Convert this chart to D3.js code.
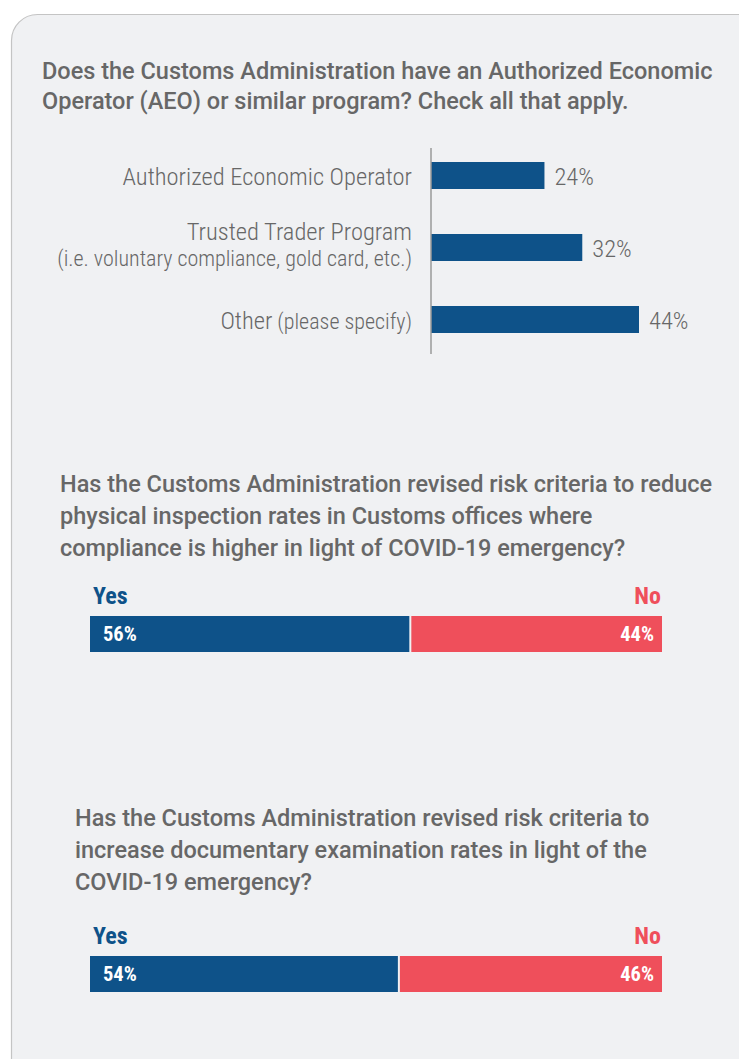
<!DOCTYPE html>
<html>
<head>
<meta charset="utf-8">
<script src="https://cdn.jsdelivr.net/npm/d3@7"></script>
<style>
  html, body { margin: 0; padding: 0; background: #ffffff; }
  svg { display: block; }
  .cond { font-family: "Roboto Condensed", "Liberation Sans Narrow", "Roboto", sans-serif; font-stretch: condensed; }
  .reg { font-family: "Roboto", "Liberation Sans", sans-serif; }
</style>
</head>
<body>
<svg id="chart" width="739" height="1059"></svg>
<script>
// ---------- data ----------
const title1Lines = ["Does the Customs Administration have an Authorized Economic",
                     "Operator (AEO) or similar program? Check all that apply."];
const aeoCategories = ["Authorized Economic Operator", "Trusted Trader Program", "Other"];
const aeoSublabels = ["", "(i.e. voluntary compliance, gold card, etc.)", "(please specify)"];
const aeoValues = [24, 32, 44];

const title2Lines = ["Has the Customs Administration revised risk criteria to reduce",
                     "physical inspection rates in Customs offices where",
                     "compliance is higher in light of COVID-19 emergency?"];
const title3Lines = ["Has the Customs Administration revised risk criteria to",
                     "increase documentary examination rates in light of the",
                     "COVID-19 emergency?"];
const answerLabels = ["Yes", "No"];
const q2Values = [56, 44];
const q3Values = [54, 46];

// ---------- style ----------
const gray = "#676767";
const blue = "#0e5289";
const red = "#ef4f5b";

const svg = d3.select("#chart");

// card
svg.append("rect")
  .attr("x", 11.5).attr("y", 14.5)
  .attr("width", 760).attr("height", 1070)
  .attr("rx", 26).attr("ry", 26)
  .attr("fill", "#f0f1f3")
  .attr("stroke", "#c4c4c4").attr("stroke-width", 1.2);

function drawTitle(lines, x, y0, lh, cls, size, weight) {
  const t = svg.append("text").attr("class", cls)
    .attr("fill", gray).attr("font-size", size).attr("font-weight", weight);
  lines.forEach((l, i) => {
    t.append("tspan").attr("x", x).attr("y", y0 + i * lh).text(l);
  });
}

// ---------- chart 1 ----------
drawTitle(title1Lines, 42, 79, 30, "reg", 23.5, 500);

const axisX = 431;
const x1 = d3.scaleLinear().domain([0, 44]).range([axisX, 639]);
const y1 = d3.scaleBand().domain(aeoCategories).range([139.5, 355.5])
  .paddingInner(0.625).paddingOuter(0.3125);

const g1 = svg.append("g");
g1.selectAll("rect.bar").data(aeoCategories).join("rect")
  .attr("class", "bar")
  .attr("x", x1(0))
  .attr("y", d => y1(d))
  .attr("width", (d, i) => x1(aeoValues[i]) - x1(0))
  .attr("height", y1.bandwidth())
  .attr("fill", blue);

g1.selectAll("text.val").data(aeoCategories).join("text")
  .attr("class", "val cond")
  .attr("x", (d, i) => x1(aeoValues[i]) + 10)
  .attr("y", d => y1(d) + y1.bandwidth() / 2 + 9.5)
  .attr("font-size", 24.5).attr("font-weight", 300)
  .attr("fill", gray)
  .text((d, i) => aeoValues[i] + "%");

// labels
aeoCategories.forEach((c, i) => {
  const cy = y1(c) + y1.bandwidth() / 2;
  const sub = aeoSublabels[i];
  if (i === 1) {
    g1.append("text").attr("class", "cond")
      .attr("x", 412).attr("y", cy - 7.5)
      .attr("text-anchor", "end").attr("font-size", 24.5).attr("font-weight", 300)
      .attr("fill", gray).text(c);
    g1.append("text").attr("class", "cond")
      .attr("x", 412).attr("y", cy + 18.5)
      .attr("text-anchor", "end").attr("font-size", 22).attr("font-weight", 300)
      .attr("fill", gray).text(sub);
  } else {
    const t = g1.append("text").attr("class", "cond")
      .attr("x", 412).attr("y", cy + 9.5)
      .attr("text-anchor", "end").attr("font-weight", 300)
      .attr("fill", gray);
    t.append("tspan").attr("font-size", 24.5).text(c);
    if (sub) t.append("tspan").attr("font-size", 22).text(" " + sub);
  }
});

// axis line
g1.append("line")
  .attr("x1", axisX).attr("x2", axisX)
  .attr("y1", 148).attr("y2", 354)
  .attr("stroke", "#9a9a9a").attr("stroke-width", 1.5);

// ---------- stacked yes/no bars ----------
function drawSplit(values, barTop) {
  const x = d3.scaleLinear().domain([0, 100]).range([90, 662]);
  const stack = [];
  let acc = 0;
  values.forEach((v, i) => { stack.push({ label: answerLabels[i], v, x0: acc, x1: acc + v }); acc += v; });
  const colors = [blue, red];
  const g = svg.append("g");
  g.selectAll("rect").data(stack).join("rect")
    .attr("x", (d, i) => x(d.x0) + (i > 0 ? 1 : 0))
    .attr("y", barTop)
    .attr("width", (d, i) => x(d.x1) - x(d.x0) - 1)
    .attr("height", 36)
    .attr("fill", (d, i) => colors[i]);
  // header labels
  g.selectAll("text.hdr").data(stack).join("text")
    .attr("class", "hdr cond")
    .attr("x", (d, i) => i === 0 ? 93 : 661)
    .attr("y", barTop - 12)
    .attr("text-anchor", (d, i) => i === 0 ? "start" : "end")
    .attr("font-size", 24).attr("font-weight", 700)
    .attr("fill", (d, i) => colors[i])
    .text(d => d.label);
  // values
  g.selectAll("text.pv").data(stack).join("text")
    .attr("class", "pv cond")
    .attr("x", (d, i) => i === 0 ? x(d.x0) + 13 : x(d.x1) - 8)
    .attr("y", barTop + 25)
    .attr("text-anchor", (d, i) => i === 0 ? "start" : "end")
    .attr("font-size", 20.5).attr("font-weight", 700)
    .attr("fill", "#ffffff")
    .text(d => d.v + "%");
}

drawTitle(title2Lines, 60, 491.5, 32, "reg", 23.5, 500);
drawSplit(q2Values, 616);

drawTitle(title3Lines, 75, 825.5, 32, "reg", 23.5, 500);
drawSplit(q3Values, 956);
</script>
</body>
</html>
